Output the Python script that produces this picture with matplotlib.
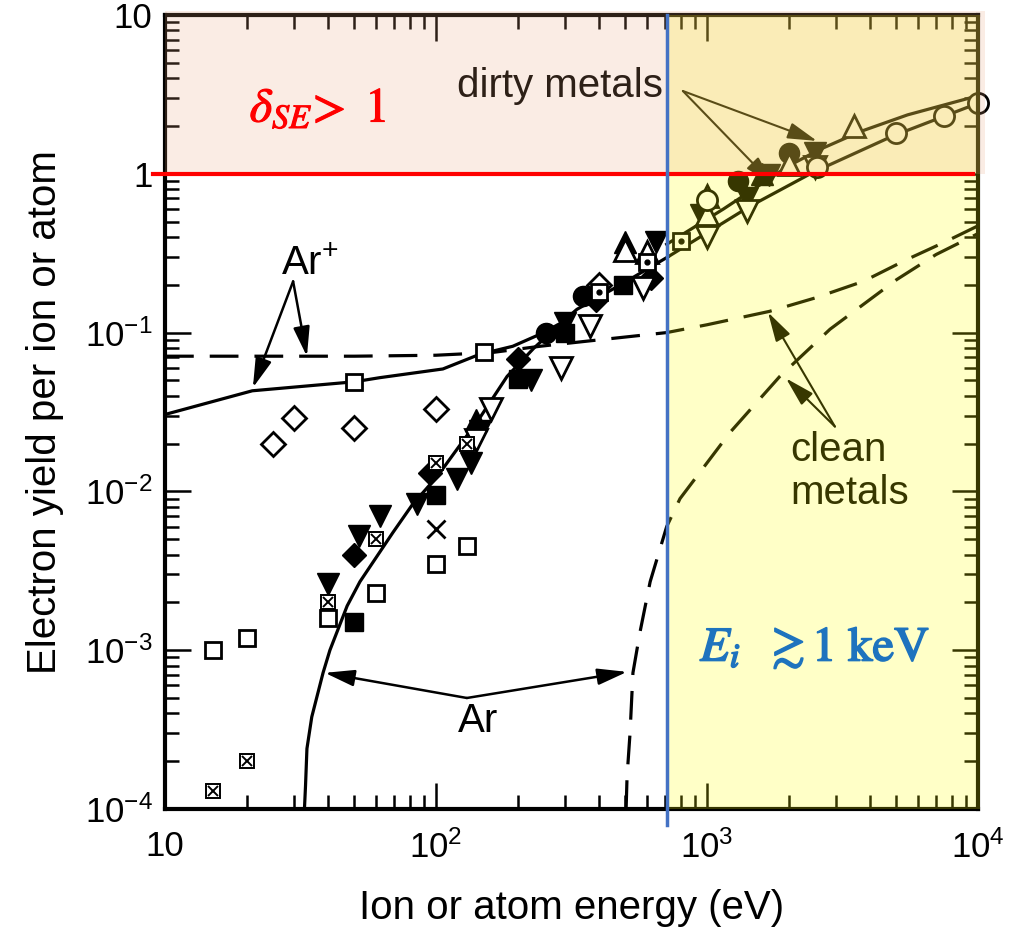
import matplotlib
matplotlib.use("Agg")
import matplotlib.pyplot as plt
import matplotlib.patheffects as pe
from matplotlib.patches import Rectangle

plt.rcParams['font.family'] = ['Liberation Sans', 'DejaVu Sans']
plt.rcParams['mathtext.fontset'] = 'custom'
plt.rcParams['mathtext.rm'] = 'Liberation Sans'
plt.rcParams['mathtext.it'] = 'Liberation Sans:italic'

# --- model curves (energy in eV, yield)
arp_solid_x = [10, 21, 50, 62, 106, 145, 192, 240, 290, 331, 480, 718]
arp_solid_y = [0.0305, 0.043, 0.049, 0.052, 0.059, 0.073, 0.082, 0.097, 0.115, 0.14, 0.2, 0.30]
ar_solid_x = [32.7, 33.0, 33.4, 34.8, 38.3, 40.6, 47, 52.4, 69.3, 82, 101, 145, 183, 230, 290]
ar_solid_y = [1e-4, 1.4e-4, 2.4e-4, 3.8e-4, 7.2e-4, 1.0e-3, 1.9e-3, 2.7e-3, 5.5e-3, 8.3e-3, 0.0124, 0.029, 0.053, 0.08, 0.115]
dirty_up_x = [710, 1150, 2000, 2600, 3700, 5500, 10000]
dirty_up_y = [0.36, 0.6, 1.12, 1.42, 1.85, 2.35, 3.1]
dirty_lo_x = [718, 1442, 2460, 4850, 10000]
dirty_lo_y = [0.30, 0.625, 1.02, 1.73, 2.78]
arp_dash_x = [10, 50, 100, 162, 242, 400, 710, 1000, 1700, 2500, 3770, 5500, 7500, 10000]
arp_dash_y = [0.071, 0.071, 0.072, 0.075, 0.082, 0.09, 0.1, 0.112, 0.136, 0.165, 0.21, 0.29, 0.37, 0.47]
ar_dash_x = [503, 507, 520, 533, 566, 617, 710, 795, 1216, 1857, 2845, 5020, 7000, 10000]
ar_dash_y = [1e-4, 1.6e-4, 3e-4, 7.2e-4, 1.3e-3, 2.7e-3, 6e-3, 9e-3, 0.0235, 0.053, 0.105, 0.216, 0.31, 0.42]

# --- measured points
osq_x = [15, 20, 40, 60, 100, 130, 50, 150]
osq_y = [1e-3, 1.2e-3, 1.6e-3, 2.3e-3, 3.5e-3, 4.5e-3, 0.049, 0.075]
xsq_x = [15, 20, 40, 60, 100, 130]
xsq_y = [1.3e-4, 2e-4, 2e-3, 5e-3, 0.015, 0.02]
cross_x = [100]
cross_y = [5.8e-3]
odia_x = [25, 30, 50, 100, 400]
odia_y = [0.02, 0.029, 0.025, 0.033, 0.2]
fdia_x = [50, 95, 200, 390, 620]
fdia_y = [4e-3, 0.013, 0.068, 0.16, 0.22]
fsq_x = [50, 100, 200, 300, 490]
fsq_y = [1.5e-3, 0.0095, 0.051, 0.1, 0.2]
fdn_x = [40, 52, 62, 85, 120, 135, 145, 225, 300, 650, 950, 1400, 1700, 2500]
fdn_y = [2.6e-3, 5.2e-3, 7e-3, 8.3e-3, 0.012, 0.015, 0.024, 0.05, 0.115, 0.37, 0.55, 0.7, 0.98, 1.35]
odn_x = [140, 160, 290, 370, 580, 1000, 1400, 2500]
odn_y = [0.021, 0.033, 0.06, 0.11, 0.19, 0.4, 0.58, 1.1]
fup_x = [141, 500, 1600]
fup_y = [0.028, 0.37, 1.0]
oup_x = [500, 600, 1000, 1000, 2000, 3500]
oup_y = [0.33, 0.32, 0.56, 0.72, 1.15, 2.0]
fci_x = [255, 350, 1300, 2000]
fci_y = [0.1, 0.17, 0.9, 1.35]
oci_x = [1000, 2550, 5000, 7500, 10000]
oci_y = [0.68, 1.1, 1.8, 2.3, 2.8]
dsq_x = [400, 600, 800]
dsq_y = [0.18, 0.28, 0.38]

e_cut = 710

fig = plt.figure(figsize=(10.3, 9.36), dpi=100)
ax = fig.add_axes([0.1602, 0.1357, 0.7893, 0.8483])
ax.set_xscale('log')
ax.set_yscale('log')
ax.set_xlim(10, 1e4)
ax.set_ylim(1e-4, 10)

lw = 2.3
dash = (0, (9, 5))
ax.plot(arp_solid_x, arp_solid_y, color='black', lw=lw)
ax.plot(ar_solid_x, ar_solid_y, color='black', lw=lw)
ax.plot(dirty_up_x, dirty_up_y, color='black', lw=lw, clip_on=False)
ax.plot(dirty_lo_x, dirty_lo_y, color='black', lw=lw, clip_on=False)
ax.plot(arp_dash_x, arp_dash_y, color='black', lw=lw, linestyle=dash)
ax.plot(ar_dash_x, ar_dash_y, color='black', lw=lw, linestyle=dash)

mk = dict(linestyle='none', color='black', clip_on=False)
op = dict(mfc='white', mec='black', mew=2.0)
ax.plot(fsq_x, fsq_y, marker='s', ms=13.5, **mk)
ax.plot(fdia_x, fdia_y, marker='D', ms=12.5, **mk)
ax.plot(fdn_x, fdn_y, marker='v', ms=16, **mk)
ax.plot(fup_x, fup_y, marker='^', ms=16, **mk)
ax.plot(fci_x, fci_y, marker='o', ms=14.5, **mk)
ax.plot(odn_x, odn_y, marker='v', ms=16, **op, **mk)
ax.plot(oup_x, oup_y, marker='^', ms=16, **op, **mk)
ax.plot(oci_x, oci_y, marker='o', ms=14.5, **op, **mk)
ax.plot(odia_x, odia_y, marker='D', ms=12, **op, **mk)
ax.plot(osq_x, osq_y, marker='s', ms=12, **op, **mk)
ax.plot(dsq_x, dsq_y, marker='s', ms=12, **op, **mk)
ax.plot(dsq_x, dsq_y, marker='o', ms=3.5, **mk)
ax.plot(xsq_x, xsq_y, marker='s', ms=10, mfc='white', mec='black', mew=1.4, **mk)
ax.plot(xsq_x, xsq_y, marker='x', ms=7, mew=1.4, **mk)
ax.plot(cross_x, cross_y, marker='x', ms=13, mew=2.0, **mk)

# --- labels with arrows
arw = dict(arrowstyle='-|>,head_length=1.8,head_width=0.5', color='black',
           lw=1.8, mutation_scale=10, shrinkA=0, shrinkB=0)
arw2 = dict(arw, lw=1.5)
fs = 29
ax.text(34.3, 0.269, 'Ar$^{+}$', fontsize=fs, ha='center', va='center')
ax.annotate('', xy=(21.1, 0.045), xytext=(29.7, 0.21), arrowprops=arw)
ax.annotate('', xy=(33.4, 0.0708), xytext=(29.7, 0.21), arrowprops=arw)
ax.text(143, 3.6e-4, 'Ar', fontsize=fs, ha='center', va='center')
ax.annotate('', xy=(38.9, 7.2e-4), xytext=(130, 5.0e-4), arrowprops=arw)
ax.annotate('', xy=(507, 7.3e-4), xytext=(130, 5.0e-4), arrowprops=arw)
ax.text(287, 3.57, 'dirty metals', fontsize=fs, ha='center', va='center')
ax.annotate('', xy=(2546, 1.61), xytext=(815, 3.32), arrowprops=arw2)
ax.annotate('', xy=(1754, 0.86), xytext=(815, 3.32), arrowprops=arw2)
ax.text(2023, 0.0133, 'clean\nmetals', fontsize=fs, ha='left', va='center',
        linespacing=1.15)
ax.annotate('', xy=(1680, 0.134), xytext=(2965, 0.0256), arrowprops=arw2)
ax.annotate('', xy=(1957, 0.0515), xytext=(2965, 0.0256), arrowprops=arw2)

# --- shaded regions (drawn over the data, as in the original)
ax.add_patch(Rectangle((e_cut, 1e-4), 1.02e4 - e_cut, 10 - 1e-4,
                       facecolor=(1, 1, 0), alpha=0.22, lw=0, zorder=10, clip_on=False))
ax.add_patch(Rectangle((10, 1), 1.06e4 - 10, 9.6,
                       facecolor=(0.9, 0.63, 0.47), alpha=0.2, lw=0, zorder=11, clip_on=False))

ax.plot([9.0, 9600], [1, 1], color='red', lw=3, zorder=12, clip_on=False)
ax.plot([e_cut, e_cut], [7.9e-5, 10], color='#4472C4', lw=2.5, zorder=12, clip_on=False)

ax.text(36.7, 2.55, r'$\delta_{SE}\!>\ 1$', color='red', fontsize=35,
        ha='center', va='center', math_fontfamily='stix', zorder=13,
        path_effects=[pe.withStroke(linewidth=0.8, foreground='red')])
ax.text(2506, 1.03e-3, r'$E_i\ \ \gtrsim 1\ \mathrm{keV}$', color='#1E73BE',
        fontsize=35, ha='center', va='center', math_fontfamily='stix', zorder=13,
        path_effects=[pe.withStroke(linewidth=1.2, foreground='#1E73BE')])

# --- axes styling
for s in ax.spines.values():
    s.set_linewidth(3)
ax.tick_params(which='both', direction='in', top=True, right=True, width=1.8)
ax.tick_params(which='major', length=19)
ax.tick_params(which='minor', length=10)
ax.tick_params(axis='x', which='major', pad=15, labelsize=25)
ax.tick_params(axis='y', which='major', pad=9, labelsize=25)

xticks = [10, 100, 1000, 10000]
xlabels = ['10', r'$\mathdefault{10^{2}}$', r'$\mathdefault{10^{3}}$', r'$\mathdefault{10^{4}}$']
yticks = [1e-4, 1e-3, 1e-2, 1e-1, 1, 10]
ylabels = [r'$\mathdefault{10^{-4}}$', r'$\mathdefault{10^{-3}}$', r'$\mathdefault{10^{-2}}$',
           r'$\mathdefault{10^{-1}}$', '1', '10']
ax.set_xticks(xticks)
ax.set_xticklabels(xlabels)
ax.set_yticks(yticks)
ax.set_yticklabels(ylabels)

ax.set_xlabel('Ion or atom energy (eV)', fontsize=fs, labelpad=18)
ax.set_ylabel('Electron yield per ion or atom', fontsize=fs, labelpad=15)

fig.savefig('out.png', dpi=100)
